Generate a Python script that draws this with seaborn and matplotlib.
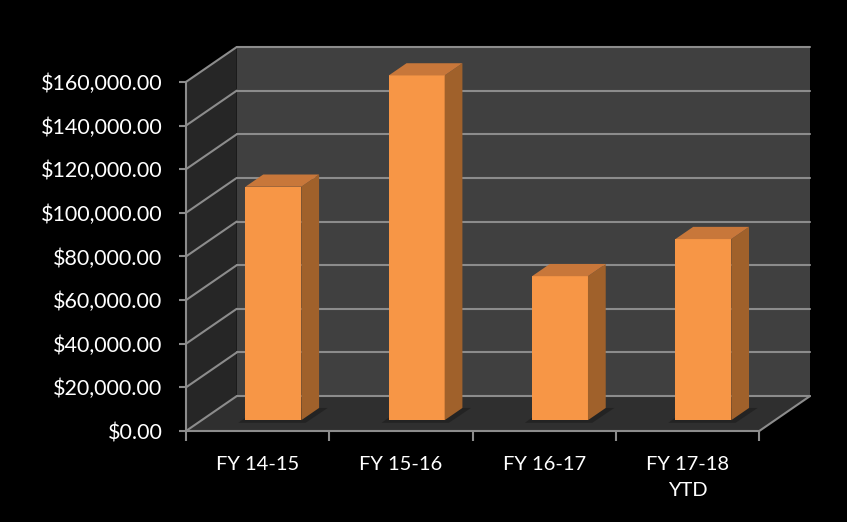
import matplotlib
matplotlib.use("Agg")
import matplotlib.pyplot as plt
from matplotlib.patches import Polygon
import seaborn as sns
import pandas as pd

# data
categories = ["FY 14-15", "FY 15-16", "FY 16-17", "FY 17-18\nYTD"]
amounts = [107000, 158000, 66000, 83000]
y_ticks = [0, 20000, 40000, 60000, 80000, 100000, 120000, 140000, 160000]

# fake 3d: depth offset of the back wall (category units, dollars)
DX = 0.354
DY = 16000
D0 = 0.31      # bar front face depth
DD = 0.35      # bar depth
BAR_W = 0.39
YMAX = 160000

ORANGE = "#f79646"
SIDE = "#a0612b"
TOP = "#c8773a"
GRID = "#8c8c8c"

sns.set_style("dark")
plt.rcParams["font.family"] = ["Lato", "DejaVu Sans"]

fig = plt.figure(figsize=(8.47, 5.22), dpi=100, facecolor="black")
ax = fig.add_axes([186 / 847, 91 / 522, 624 / 847, 384 / 522])
ax.set_facecolor("black")

df = pd.DataFrame({"period": categories, "amount": amounts})
sns.barplot(data=df, x="period", y="amount", color=ORANGE, saturation=1,
            width=BAR_W, ax=ax, zorder=5, edgecolor="none", linewidth=0)

x_lo, x_hi = -0.5, len(categories) - 0.5

# walls and floor
back = Polygon([(x_lo + DX, DY), (x_hi + DX, DY), (x_hi + DX, YMAX + DY), (x_lo + DX, YMAX + DY)],
               facecolor="#404040", edgecolor="none", zorder=0)
side = Polygon([(x_lo, 0), (x_lo + DX, DY), (x_lo + DX, YMAX + DY), (x_lo, YMAX)],
               facecolor="#262626", edgecolor="none", zorder=0)
floor = Polygon([(x_lo, 0), (x_hi, 0), (x_hi + DX, DY), (x_lo + DX, DY)],
                facecolor="#2f2f2f", edgecolor="none", zorder=1)
for p in (back, side, floor):
    ax.add_patch(p)

# gridlines on back and side walls
for v in y_ticks:
    ax.plot([x_lo + DX, x_hi + DX], [v + DY, v + DY], color=GRID, lw=1.5, zorder=2, clip_on=False)
    ax.plot([x_lo, x_lo + DX], [v, v + DY], color=GRID, lw=1.5, zorder=2, clip_on=False)
ax.plot([x_hi, x_hi + DX], [0, DY], color=GRID, lw=1.5, zorder=2, clip_on=False)

# push bars back and add side/top faces
for patch in list(ax.patches):
    if patch in (back, side, floor):
        continue
    x0 = patch.get_x() + D0 * DX
    y0 = D0 * DY
    w = patch.get_width()
    h = patch.get_height()
    patch.set_x(x0)
    patch.set_y(y0)
    ddx, ddy = DD * DX, DD * DY
    # faint shadow on the floor
    ax.add_patch(Polygon([(x0 - 0.05, y0 - 1200), (x0 + w + 0.03, y0 - 1200),
                          (x0 + w + ddx + 0.06, y0 + ddy), (x0 + ddx - 0.03, y0 + ddy)],
                         facecolor="#151515", edgecolor="none", alpha=0.45, zorder=3))
    ax.add_patch(Polygon([(x0 + w, y0), (x0 + w + ddx, y0 + ddy), (x0 + w + ddx, y0 + h + ddy), (x0 + w, y0 + h)],
                         facecolor=SIDE, edgecolor="none", zorder=5))
    ax.add_patch(Polygon([(x0, y0 + h), (x0 + w, y0 + h), (x0 + w + ddx, y0 + h + ddy), (x0 + ddx, y0 + h + ddy)],
                         facecolor=TOP, edgecolor="none", zorder=5))

ax.set_xlim(x_lo, x_hi + DX)
ax.set_ylim(0, YMAX + DY)

ax.set_yticks(y_ticks)
ax.set_yticklabels([f"${v:,.2f}" for v in y_ticks])
ax.set_xticks([x_lo + i for i in range(len(categories) + 1)])
ax.set_xticklabels([])
ax.set_xticks(range(len(categories)), minor=True)
ax.set_xticklabels(categories, minor=True, linespacing=1.65)
ax.tick_params(axis="y", colors=GRID, labelcolor="white", labelsize=15.5, length=5, width=1.5, pad=12, left=True)
ax.tick_params(axis="x", which="major", colors=GRID, length=7, width=1.5, bottom=True)
ax.tick_params(axis="x", which="minor", length=0, labelcolor="white", labelsize=14.5, pad=18)
ax.set_xlabel("")
ax.set_ylabel("")
ax.grid(False)

for s in ("top", "right"):
    ax.spines[s].set_visible(False)
ax.spines["left"].set_bounds(0, YMAX)
ax.spines["bottom"].set_bounds(x_lo, x_hi)
for s in ("left", "bottom"):
    ax.spines[s].set_color(GRID)
    ax.spines[s].set_linewidth(1.5)
    ax.spines[s].set_zorder(3)

fig.savefig("out.png", dpi=100, facecolor="black")
